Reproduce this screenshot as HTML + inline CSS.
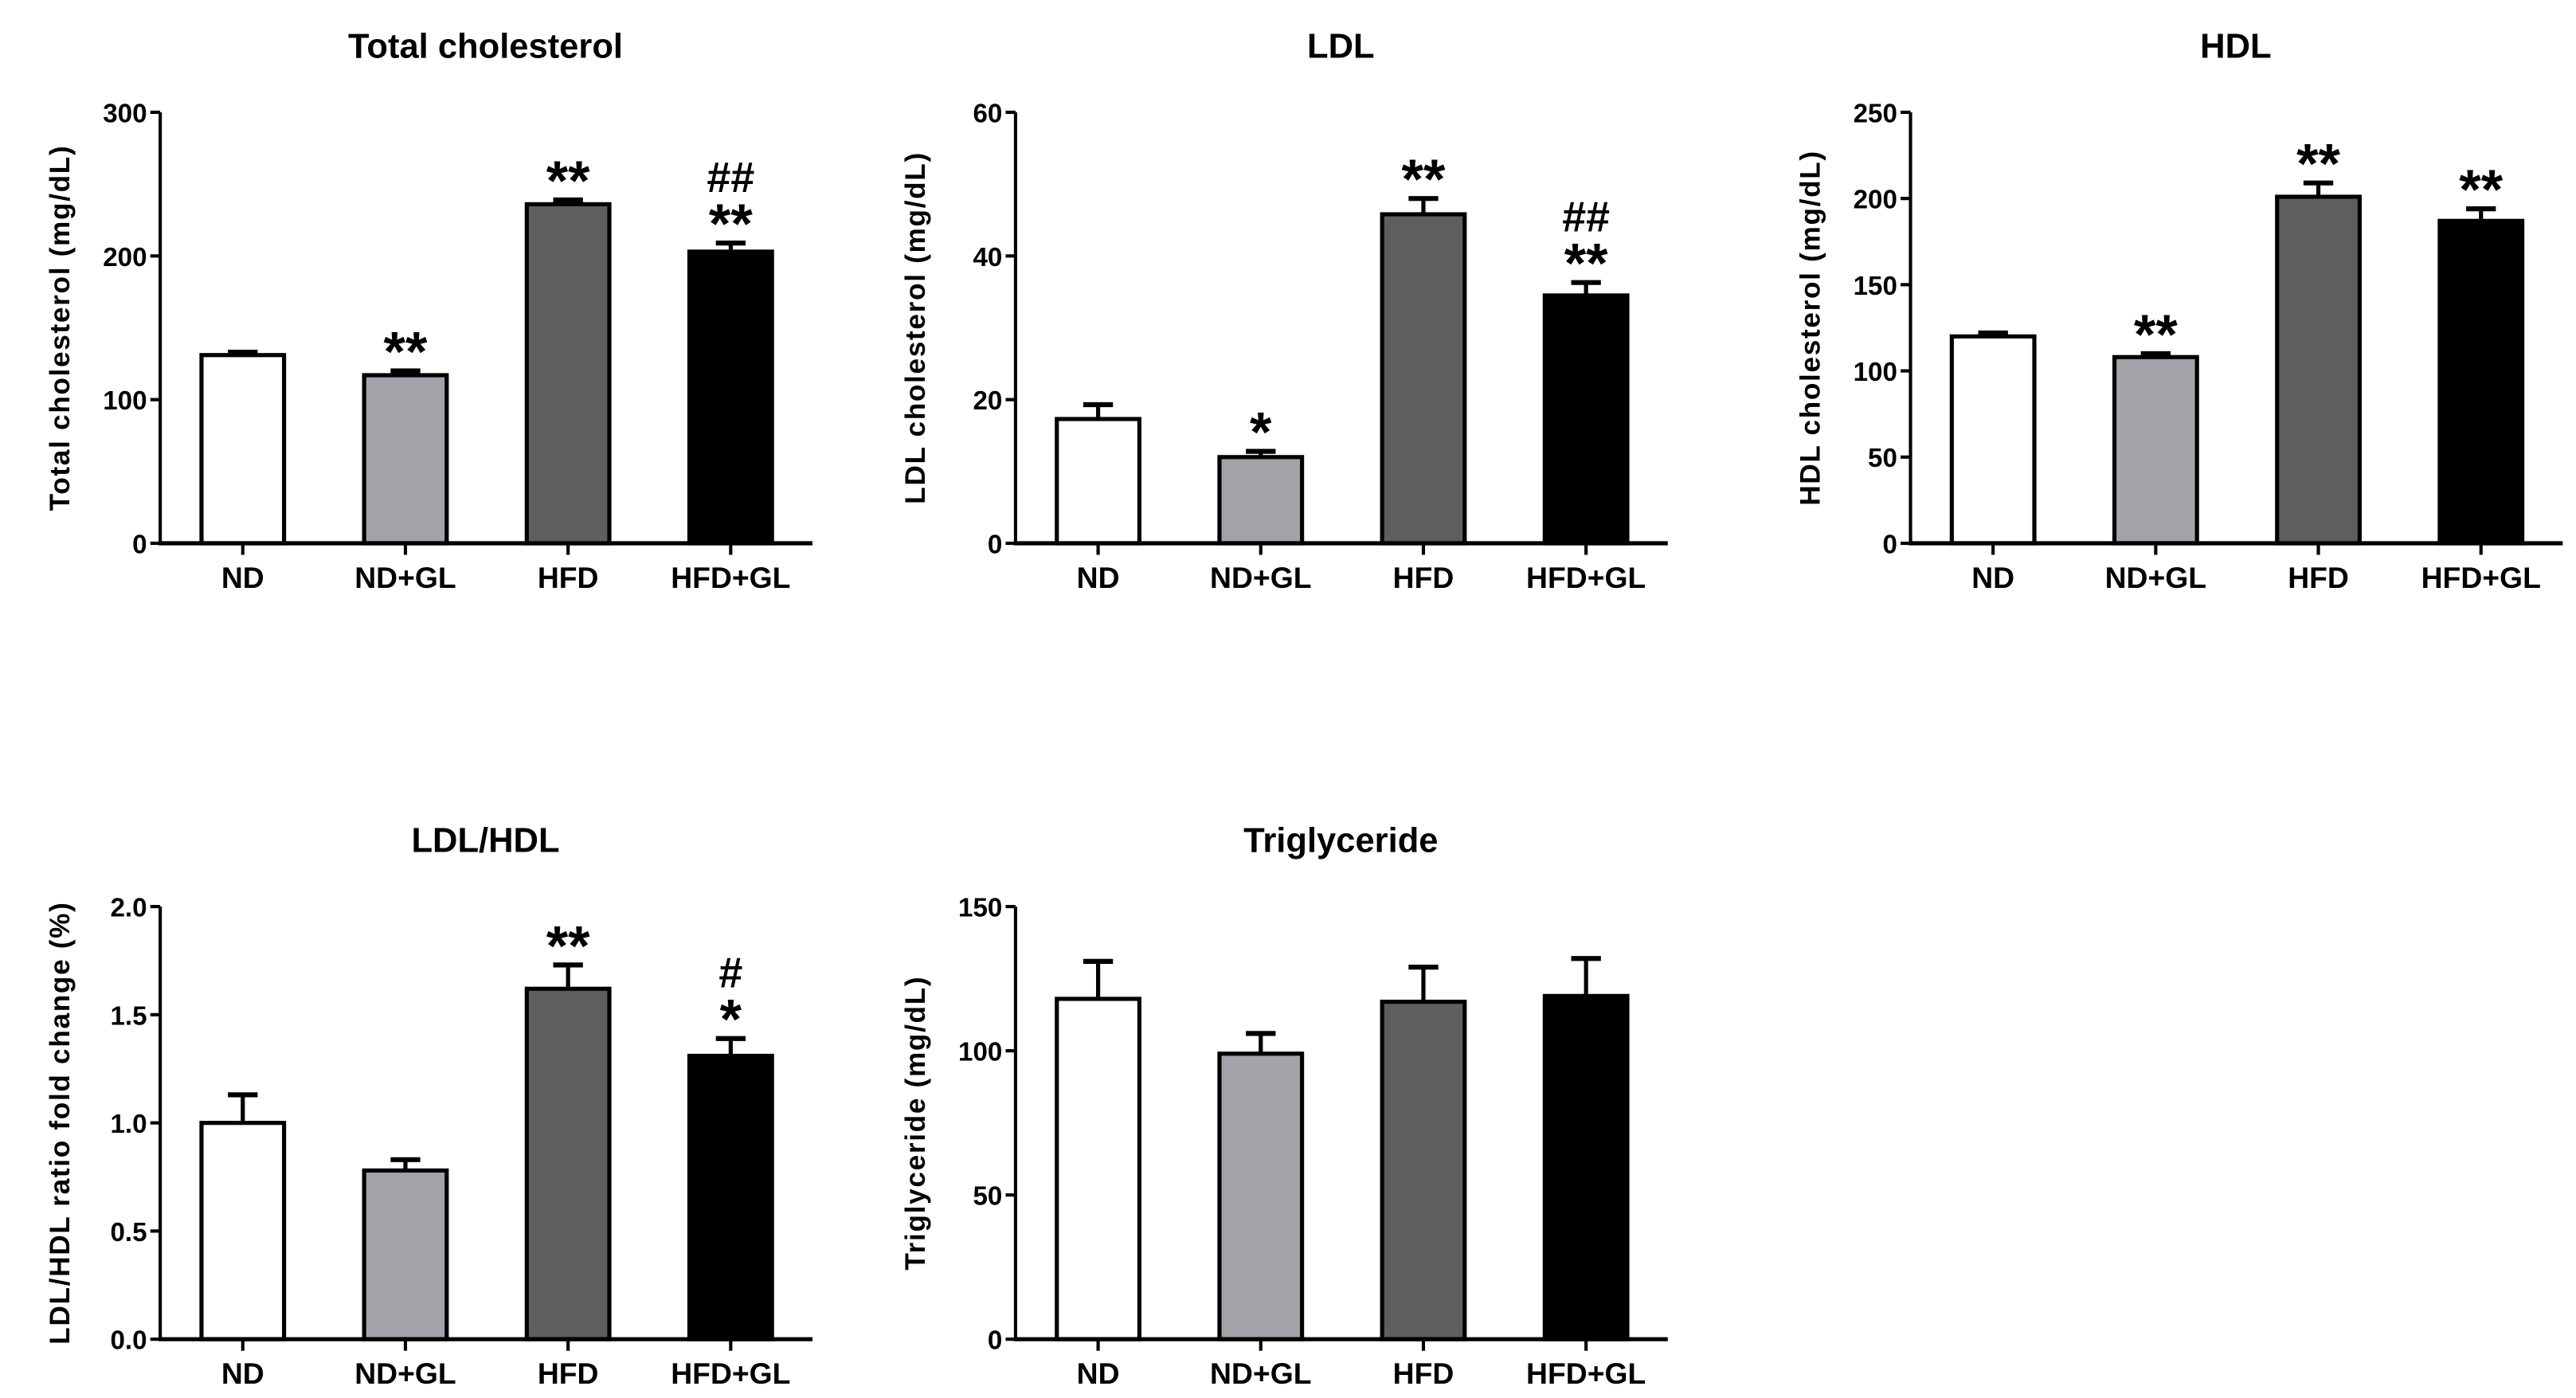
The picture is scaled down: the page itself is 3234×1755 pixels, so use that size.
<!DOCTYPE html>
<html><head><meta charset="utf-8"><style>
html,body{margin:0;padding:0;background:#fff;}
svg{display:block;font-family:"Liberation Sans",Arial,sans-serif;font-weight:bold;}
</style></head><body>
<svg id="fig" width="3234" height="1755" viewBox="0 0 1560 846.6" xmlns="http://www.w3.org/2000/svg"></svg>
<script>
const categories = ["ND","ND+GL","HFD","HFD+GL"];
const fills = ["#ffffff","#a2a2a8","#5e5e5e","#000000"];
const tcValues = [131,117,236,203];
const tcErrors = [2,3,3,6];
const tcMarks = [[],["**"],["**"],["**","##"]];
const tcTicks = [0,100,200,300];
const ldlValues = [17.3,12,45.8,34.5];
const ldlErrors = [2,0.8,2.2,1.8];
const ldlMarks = [[],["*"],["**"],["**","##"]];
const ldlTicks = [0,20,40,60];
const hdlValues = [120,108,201,187];
const hdlErrors = [2,2,8,7];
const hdlMarks = [[],["**"],["**"],["**"]];
const hdlTicks = [0,50,100,150,200,250];
const ratioValues = [1.0,0.78,1.62,1.31];
const ratioErrors = [0.13,0.05,0.11,0.08];
const ratioMarks = [[],[],["**"],["*","#"]];
const ratioTicks = ["0.0","0.5","1.0","1.5","2.0"];
const tgValues = [118,99,117,119];
const tgErrors = [13,7,12,13];
const tgMarks = [[],[],[],[]];
const tgTicks = [0,50,100,150];

const NS="http://www.w3.org/2000/svg";
const svg=document.getElementById('fig');
function mk(tag,attrs,parent){const e=document.createElementNS(NS,tag);for(const k in attrs)e.setAttribute(k,attrs[k]);(parent||svg).appendChild(e);return e;}

function panel(id,ax,yTop,yBot,title,yTitle,values,errors,marks,ticks){
  const g=mk('g',{});
  
  
  const maxV=parseFloat(ticks[ticks.length-1]);
  const y=v=>yBot-(v/maxV)*(yBot-yTop);
  const barX=i=>ax+25+i*98.5;
  const bw=50;
  const t=mk('text',{x:ax+197,y:yTop-33,'text-anchor':'middle','font-size':21},g);t.textContent=title;
  
  
  const yt=mk('text',{transform:`translate(${ax-55},${(yTop+yBot)/2}) rotate(-90)`,'text-anchor':'middle','font-size':17,'letter-spacing':'0.8'},g);yt.textContent=yTitle;
  
  
  for(let i=0;i<categories.length;i++){
    const x0=barX(i), top=y(values[i]), et=y(values[i]+errors[i]);
    const el=mk('line',{x1:x0+bw/2,x2:x0+bw/2,y1:top,y2:et,stroke:'#000','stroke-width':2.5},g);
    
    
    const cap=mk('line',{x1:x0+bw/2-9,x2:x0+bw/2+9,y1:et,y2:et,stroke:'#000','stroke-width':3},g);
    
    
    const r=mk('rect',{x:x0,y:top,width:bw,height:yBot-top,fill:fills[i],stroke:'#000','stroke-width':2.5},g);
    
    
    marks[i].forEach((m,k)=>{
      const isStar=m[0]=='*';
      const yy=isStar?et:et-31;
      const s=mk('text',{x:x0+bw/2,y:yy,'text-anchor':'middle','font-size':isStar?34:26,'font-weight':'bold'},g);s.textContent=m;
      
      
    });
    const tk=mk('line',{x1:x0+bw/2,x2:x0+bw/2,y1:yBot,y2:yBot+7,stroke:'#000','stroke-width':2},g);
    
    
    const lb=mk('text',{x:x0+bw/2,y:yBot+27,'text-anchor':'middle','font-size':18},g);lb.textContent=categories[i];
    
    
  }
  const ya=mk('line',{x1:ax,x2:ax,y1:yTop,y2:yBot+1,stroke:'#000','stroke-width':2},g);
  
  
  const xa=mk('line',{x1:ax-1,x2:ax+395,y1:yBot,y2:yBot,stroke:'#000','stroke-width':2.5},g);
  
  
  ticks.forEach(tv=>{
    const yy=y(parseFloat(tv));
    const l=mk('line',{x1:ax-6,x2:ax,y1:yy,y2:yy,stroke:'#000','stroke-width':2},g);
    
    
    const tl=mk('text',{x:ax-8,y:yy+6,'text-anchor':'end','font-size':16},g);tl.textContent=tv;
    
    
  });
}
panel('total-cholesterol',97,68,329,'Total cholesterol','Total cholesterol (mg/dL)',tcValues,tcErrors,tcMarks,tcTicks);
panel('ldl',615,68,329,'LDL','LDL cholesterol (mg/dL)',ldlValues,ldlErrors,ldlMarks,ldlTicks);
panel('hdl',1157,68,329,'HDL','HDL cholesterol (mg/dL)',hdlValues,hdlErrors,hdlMarks,hdlTicks);
panel('ldl-hdl-ratio',97,549,811,'LDL/HDL','LDL/HDL ratio fold change (%)',ratioValues,ratioErrors,ratioMarks,ratioTicks);
panel('triglyceride',615,549,811,'Triglyceride','Triglyceride (mg/dL)',tgValues,tgErrors,tgMarks,tgTicks);
</script>
</body></html>
